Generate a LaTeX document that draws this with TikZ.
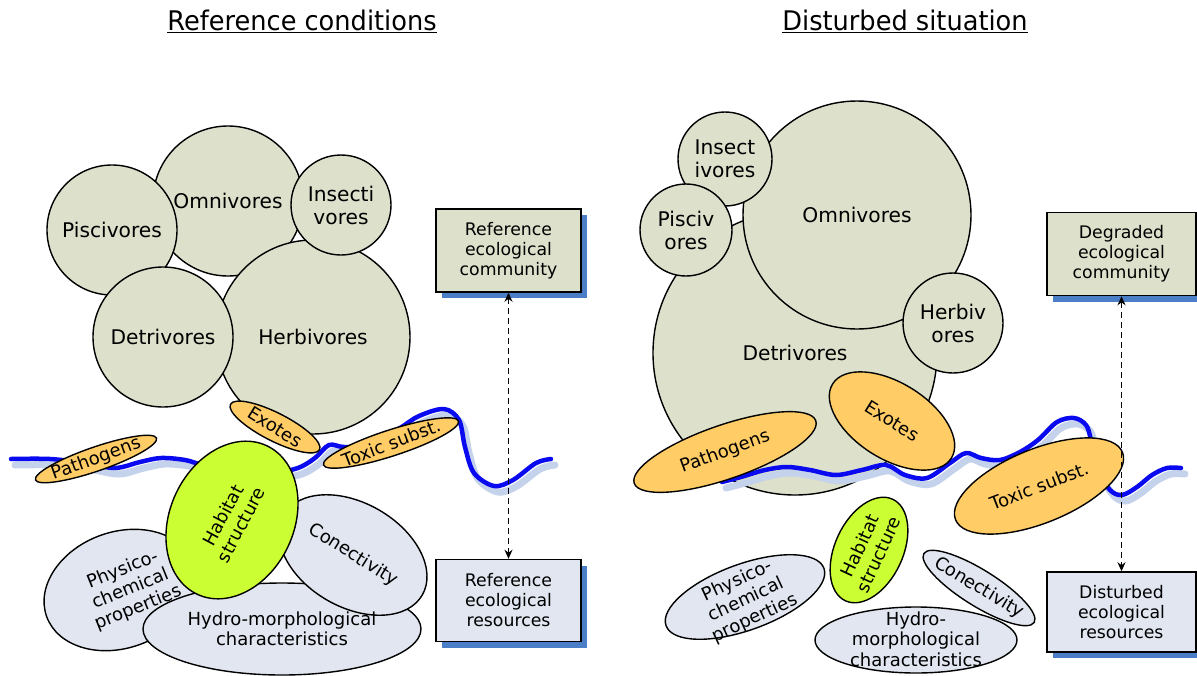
\documentclass[tikz,border=0pt]{standalone}
\usepackage{fontspec}
\setmainfont{DejaVu Sans}
\newfontfamily\titlefont[FakeStretch=0.95]{DejaVu Sans}
\usetikzlibrary{shapes.geometric,arrows.meta,shadows}
\definecolor{circfill}{HTML}{DDE0CB}
\definecolor{orangefill}{HTML}{FFCC66}
\definecolor{greenfill}{HTML}{CCFF33}
\definecolor{bluegrey}{HTML}{E1E6F1}
\definecolor{shadowblue}{HTML}{4A7EC6}
\definecolor{wavecol}{HTML}{0A0AF0}
\definecolor{waveshadow}{HTML}{C4D2EC}
\tikzset{
  circ/.style={circle, draw, line width=1.4pt, fill=circfill, inner sep=0pt, align=center, font=\fontsize{20.2}{23}\selectfont},
  orng/.style={ellipse, draw, line width=1.4pt, fill=orangefill, inner sep=0pt},
  blob/.style={ellipse, draw, line width=1.4pt, fill=bluegrey, inner sep=0pt},
  hab/.style={ellipse, draw, line width=1.4pt, fill=greenfill, inner sep=0pt},
  lbl/.style={font=\fontsize{18}{20.5}\selectfont, align=center, inner sep=0pt},
  infobox/.style={draw, line width=1.5pt, minimum width=145pt, minimum height=83pt, align=center, inner sep=0pt,
    font=\fontsize{17.3}{20}\selectfont,
    drop shadow={shadow xshift=6pt, shadow yshift=-6pt, fill=shadowblue, opacity=1}},
  waveline/.style={draw=wavecol, line width=4.5pt, line cap=round, line join=round},
  waveshade/.style={draw=waveshadow, line width=7pt, line cap=round, line join=round, xshift=4pt, yshift=-6pt},
  dasharrow/.style={dashed, dash pattern=on 6pt off 4pt, line width=1pt, {Stealth[length=9pt,width=8pt]}-{Stealth[length=9pt,width=8pt]}},
  title/.style={font=\titlefont\fontsize{27}{32}\selectfont, inner sep=0pt}
}
\begin{document}
\begin{tikzpicture}[x=1pt,y=-1pt]
\useasboundingbox (0,0) rectangle (1197,675);
\fill[white] (0,0) rectangle (1197,675);

% titles
\node[title] (t1) at (302,21) {\underline{Reference conditions}};
\node[title] (t2) at (905,21) {\underline{Disturbed situation}};

% ===== LEFT: circles
\node[circ, minimum size=150pt] (lomni) at (228,201) {Omnivores};
\node[circ, minimum size=130pt] (lpisc) at (112,230) {Piscivores};
\node[circ, minimum size=194pt] (lherb) at (313,337) {Herbivores};
\node[circ, minimum size=140pt] (ldetr) at (163,337) {Detrivores};
\node[circ, minimum size=100pt] (linse) at (341,205) {Insecti\\vores};

% left wave
\draw[waveshade] plot[smooth, tension=0.55] coordinates {(11,459) (50,459) (85,463) (115,468) (140,462) (161,458) (185,460) (203,465) (240,472) (275,472) (298,468) (315,458) (329,445) (344,447) (370,445) (400,428) (419,416) (444,409) (459,420) (465,447) (474,473) (494,486) (513,480) (536,463) (551,459)};
\draw[waveline] plot[smooth, tension=0.55] coordinates {(11,459) (50,459) (85,463) (115,468) (140,462) (161,458) (185,460) (203,465) (240,472) (275,472) (298,468) (315,458) (329,445) (344,447) (370,445) (400,428) (419,416) (444,409) (459,420) (465,447) (474,473) (494,486) (513,480) (536,463) (551,459)};

% left ellipses
\node[blob, minimum width=156pt, minimum height=116pt, rotate=20] (lphys) at (120,590) {};
\node[blob, minimum width=278pt, minimum height=92pt] (lhydro) at (282,629) {};
\node[blob, minimum width=160pt, minimum height=104pt, rotate=-30] (lconn) at (353,555) {};
\node[hab, minimum width=164pt, minimum height=124pt, rotate=65] (lhab) at (232,520) {};
\node[orng, minimum width=128pt, minimum height=24pt, rotate=19] (lpath) at (96,459) {};
\node[orng, minimum width=100pt, minimum height=28pt, rotate=-27] (lexo) at (275,427) {};
\node[orng, minimum width=142pt, minimum height=26pt, rotate=18] (ltox) at (391,443) {};

% left labels
\node[lbl, rotate=20] at (lpath.center) {Pathogens};
\node[lbl, rotate=-32] at (lexo.center) {Exotes};
\node[lbl, rotate=21] at (ltox.center) {Toxic subst.};
\node[lbl, rotate=62] at (lhab.center) {Habitat\\structure};
\node[lbl, rotate=22, xshift=10pt, yshift=-3pt] at (lphys.center) {Physico-\\chemical\\properties};
\node[lbl] at (lhydro.center) {Hydro-morphological\\characteristics};
\node[lbl, rotate=-32] at (lconn.center) {Conectivity};

% left boxes
\node[infobox, fill=circfill] (lcom) at (508.5,250.5) {Reference\\ecological\\community};
\node[infobox, fill=bluegrey, minimum height=82pt] (lres) at (508.5,600.5) {Reference\\ecological\\resources};
\draw[dasharrow] (lcom.south) -- (lres.north);

% ===== RIGHT: circles
\node[circ, minimum size=284pt] (rdetr) at (795,353) {};
\node[circ, minimum size=228pt] (romni) at (857,215) {Omnivores};
\node[circ, minimum size=94pt] (rinse) at (725,159) {Insect\\ivores};
\node[circ, minimum size=92pt] (rpisc) at (686,230) {Pisciv\\ores};
\node[circ, minimum size=100pt] (rherb) at (953,323) {Herbiv\\ores};
\node[font=\fontsize{20.2}{23}\selectfont, inner sep=0pt] (rdetrl) at (795,353) {Detrivores};

% right wave
\draw[waveshade] plot[smooth, tension=0.55] coordinates {(722,482) (741,477) (765,470) (787,467) (810,470) (836,475) (862,470) (886,465) (905,475) (927,478) (950,463) (966,453) (981,458) (1000,460) (1020,452) (1038,440) (1057,422) (1074,418) (1086,425) (1091,440) (1098,470) (1110,490) (1122,495) (1137,487) (1152,475) (1167,468) (1181,468)};
\draw[waveline] plot[smooth, tension=0.55] coordinates {(722,482) (741,477) (765,470) (787,467) (810,470) (836,475) (862,470) (886,465) (905,475) (927,478) (950,463) (966,453) (981,458) (1000,460) (1020,452) (1038,440) (1057,422) (1074,418) (1086,425) (1091,440) (1098,470) (1110,490) (1122,495) (1137,487) (1152,475) (1167,468) (1181,468)};

% right ellipses
\node[blob, minimum width=168pt, minimum height=66pt, rotate=20] (rphys) at (745,597) {};
\node[blob, minimum width=202pt, minimum height=66pt] (rhydro) at (916,640) {};
\node[blob, minimum width=130pt, minimum height=36pt, rotate=-32] (rconn) at (979,588) {};
\node[hab, minimum width=112pt, minimum height=68pt, rotate=65] (rhab) at (869,550) {};
\node[orng, minimum width=192pt, minimum height=54pt, rotate=19] (rpath) at (725,452) {};
\node[orng, minimum width=140pt, minimum height=76pt, rotate=-32] (rexo) at (892,421) {};
\node[orng, minimum width=180pt, minimum height=74pt, rotate=22] (rtox) at (1039,486) {};

% right labels
\node[lbl, rotate=20] at (rpath.center) {Pathogens};
\node[lbl, rotate=-32] at (rexo.center) {Exotes};
\node[lbl, rotate=21] at (rtox.center) {Toxic subst.};
\node[lbl, rotate=65] at (rhab.center) {Habitat\\structure};
\node[lbl, rotate=25, yshift=-3pt] at (rphys.center) {Physico-\\chemical\\properties};
\node[lbl, rotate=-31] at (rconn.center) {Conectivity};
\node[lbl, yshift=1pt] at (rhydro.center) {Hydro-\\morphological\\characteristics};

% right boxes
\node[infobox, fill=circfill, minimum width=149pt] (rcom) at (1121.5,254) {Degraded\\ecological\\community};
\node[infobox, fill=bluegrey, minimum width=149pt, minimum height=80pt] (rres) at (1121.5,612) {Disturbed\\ecological\\resources};
\draw[dasharrow] (rcom.south) -- (rres.north);
\end{tikzpicture}
\end{document}
